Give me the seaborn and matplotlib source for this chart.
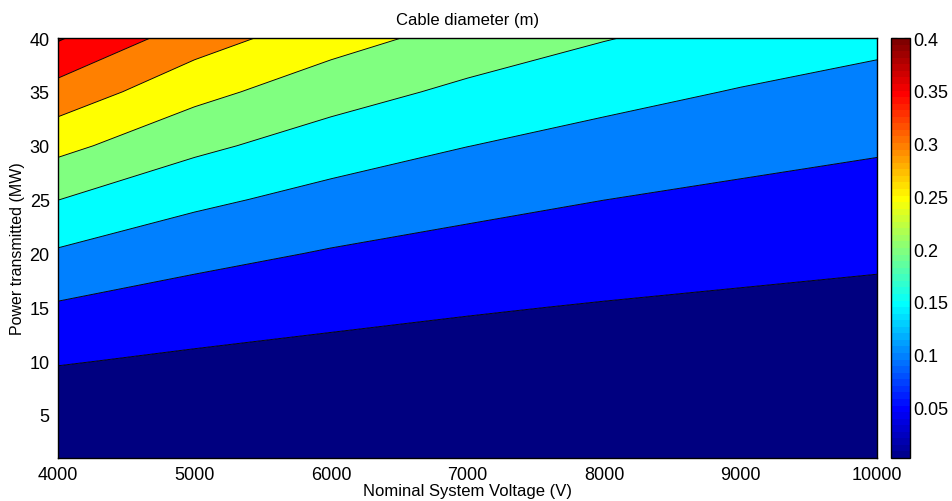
import numpy as np
import pandas as pd
import matplotlib
matplotlib.use("Agg")
import matplotlib.pyplot as plt
from matplotlib.colors import ListedColormap, Normalize
from matplotlib.cm import ScalarMappable
import seaborn as sns

# Grid of the computed cable diameter (m)
voltage = [4000, 5000, 6000, 7000, 8000, 9000, 10000]          # V
power = [1, 5, 10, 15, 20, 25, 30, 35, 40]                      # MW

diam_4000 = [0.0017, 0.0187, 0.0530, 0.0944, 0.1442, 0.2006, 0.2637, 0.3313, 0.4048]
diam_5000 = [0.0013, 0.0150, 0.0424, 0.0755, 0.1154, 0.1605, 0.2110, 0.2650, 0.3238]
diam_6000 = [0.0011, 0.0125, 0.0353, 0.0629, 0.0962, 0.1338, 0.1758, 0.2209, 0.2698]
diam_7000 = [0.0010, 0.0107, 0.0303, 0.0539, 0.0824, 0.1146, 0.1507, 0.1893, 0.2313]
diam_8000 = [0.0008, 0.0094, 0.0265, 0.0472, 0.0721, 0.1003, 0.1319, 0.1657, 0.2024]
diam_9000 = [0.0007, 0.0083, 0.0235, 0.0420, 0.0641, 0.0892, 0.1172, 0.1472, 0.1799]
diam_10000 = [0.0007, 0.0075, 0.0212, 0.0378, 0.0577, 0.0803, 0.1055, 0.1325, 0.1619]

contour_levels = [0.05, 0.10, 0.15, 0.20, 0.25, 0.30, 0.35, 0.40]
band_edges = [0.0] + contour_levels + [0.45]
cbar_ticks = [0.05, 0.1, 0.15, 0.2, 0.25, 0.3, 0.35, 0.4]
cbar_labels = ["0.05", "0.1", "0.15", "0.2", "0.25", "0.3", "0.35", "0.4"]
cbar_range = (0.002, 0.4)

x_ticks = [4000, 5000, 6000, 7000, 8000, 9000, 10000]
y_ticks = [5, 10, 15, 20, 25, 30, 35, 40]

table = pd.DataFrame(
    {
        4000: diam_4000, 5000: diam_5000, 6000: diam_6000, 7000: diam_7000,
        8000: diam_8000, 9000: diam_9000, 10000: diam_10000,
    },
    index=power,
)


def classic_jet(x):
    x = np.asarray(x, dtype=float)
    r = np.clip(1.5 - np.abs(4 * x - 3), 0, 1)
    g = np.clip(1.5 - np.abs(4 * x - 2), 0, 1)
    b = np.clip(1.5 - np.abs(4 * x - 1), 0, 1)
    return np.stack([r, g, b], axis=-1)


sns.set_theme(style="white")
plt.rcParams["font.family"] = ["Liberation Sans", "DejaVu Sans"]
plt.rcParams.update({
    "text.color": "black",
    "axes.labelcolor": "black",
    "xtick.color": "black",
    "ytick.color": "black",
})

fig = plt.figure(figsize=(9.53, 5.02), dpi=100)
ax = fig.add_axes([58 / 953, 1 - 459 / 502, 819 / 953, 420 / 502])
cax = fig.add_axes([891 / 953, 1 - 459 / 502, 19 / 953, 420 / 502])

n_bands = len(band_edges) - 1
band_colors = [tuple(classic_jet(k / 8)) for k in range(n_bands)]

X = table.columns.to_numpy(dtype=float)
Y = table.index.to_numpy(dtype=float)
Z = table.to_numpy()

ax.contourf(X, Y, Z, levels=band_edges, colors=band_colors, antialiased=True)
ax.contour(X, Y, Z, levels=contour_levels, colors="black", linewidths=0.65)

ax.set_xlim(4000, 10000)
ax.set_ylim(1, 40)
ax.set_xticks(x_ticks)
ax.set_yticks(y_ticks)
ax.tick_params(length=0, labelsize=13, colors="black", pad=6)
for spine in ax.spines.values():
    spine.set_color("black")
    spine.set_linewidth(1.0)
ax.set_title("Cable diameter (m)", fontsize=12, pad=10, color="black")
ax.set_xlabel("Nominal System Voltage (V)", fontsize=12, labelpad=0)
ax.set_ylabel("Power transmitted (MW)", fontsize=11.5, labelpad=3)

cmap64 = ListedColormap(classic_jet((np.arange(64) + 1) / 64))
sm = ScalarMappable(norm=Normalize(*cbar_range), cmap=cmap64)
cb = fig.colorbar(sm, cax=cax, ticks=cbar_ticks)
cb.set_ticklabels(cbar_labels)
cb.outline.set_edgecolor("black")
cb.outline.set_linewidth(1.0)
cax.tick_params(direction="in", left=True, right=True, labelleft=False,
                labelright=True, length=4, width=0.8, labelsize=13,
                colors="black", pad=2)

fig.savefig("out.png", dpi=100)
